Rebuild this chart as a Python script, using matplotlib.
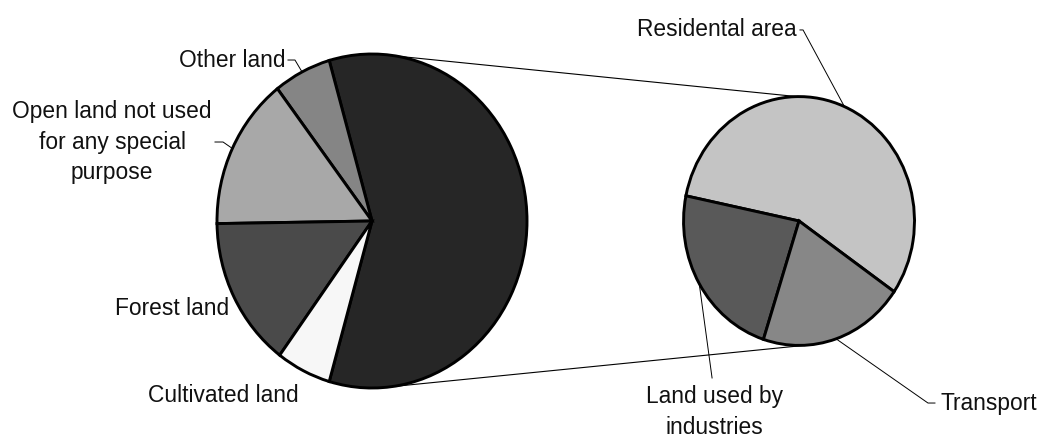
import numpy as np
import matplotlib.pyplot as plt

plt.rcParams['font.family'] = ['Liberation Sans', 'DejaVu Sans']

# land use, share of total area (%)
main_labels = ['Built-up land', 'Other land',
               'Open land not used\nfor any special\npurpose',
               'Forest land', 'Cultivated land']
main_values = [58.9, 6.0, 14.8, 14.6, 5.7]
main_colors = ['#262626', '#858585', '#a8a8a8', '#4a4a4a', '#f7f7f7']

# built-up land split into its parts (%)
sub_labels = ['Residental area', 'Land used by\nindustries', 'Transport']
sub_values = [33.2, 13.7, 12.0]
sub_colors = ['#c4c4c4', '#595959', '#878787']

W, H = 1041, 437
fig = plt.figure(figsize=(W / 100, H / 100), dpi=100)
ax = fig.add_axes([0, 0, 1, 1])

wp = dict(edgecolor='black', linewidth=2.1)
big_c, big_r = (0.0, 0.0), 1.0
sub_c, sub_r = (2.755, 0.0), 0.745

start = -main_values[0] / sum(main_values) * 360 / 2
w_main, _ = ax.pie(main_values, colors=main_colors, startangle=start,
                   center=big_c, radius=big_r, wedgeprops=wp)
w_sub, _ = ax.pie(sub_values, colors=sub_colors, startangle=-34.6,
                  center=sub_c, radius=sub_r, wedgeprops=wp)

# pie circles come out slightly taller than wide
ax.set_aspect('auto')
ax.set_xlim(-372 / 155, (W - 372) / 155)
ax.set_ylim(-(H - 221) / 167, 221 / 167)
ax.axis('off')


def edge_pt(center, r, ang):
    a = np.deg2rad(ang)
    return center[0] + r * np.cos(a), center[1] + r * np.sin(a)


# lines joining the built-up slice to the second pie
for a1, a2 in [(81, 91), (-83, -86)]:
    p1 = edge_pt(big_c, big_r, a1)
    p2 = edge_pt(sub_c, sub_r, a2)
    ax.plot([p1[0], p2[0]], [p1[1], p2[1]], color='black', lw=0.8, zorder=0)


def mid(w):
    return (w.theta1 + w.theta2) / 2


fs = 16.4
tc = '#111111'
ls = 1.4

# label, wedge, text xy, alignment, leader elbow points
main_lab = [
    (1, (-0.561, 0.964), 'right', [(-0.542, 0.964), (-0.497, 0.964)]),
    (2, (-1.677, 0.473), 'center', [(-1.013, 0.473), (-0.961, 0.473)]),
    (3, (-0.923, -0.521), 'right', None),
    (4, (-0.471, -1.042), 'right', None),
]
for i, xy, ha, elbow in main_lab:
    ax.text(xy[0], xy[1], main_labels[i], ha=ha, va='center', fontsize=fs,
            color=tc, linespacing=ls)
    if elbow:
        p = edge_pt(big_c, big_r, mid(w_main[i]))
        xs = [e[0] for e in elbow] + [p[0]]
        ys = [e[1] for e in elbow] + [p[1]]
        ax.plot(xs, ys, color='black', lw=0.7)

sub_lab = [
    (0, (2.742, 1.144), 'right', 'center', [(2.761, 1.144), (2.781, 1.144)]),
    (1, (2.210, -0.985), 'center', 'top', [(2.194, -0.940)]),
    (2, (3.665, -1.090), 'left', 'center', [(3.632, -1.090), (3.587, -1.090)]),
]
for i, xy, ha, va, elbow in sub_lab:
    ax.text(xy[0], xy[1], sub_labels[i], ha=ha, va=va, fontsize=fs,
            color=tc, linespacing=ls)
    p = edge_pt(sub_c, sub_r, mid(w_sub[i]))
    xs = [e[0] for e in elbow] + [p[0]]
    ys = [e[1] for e in elbow] + [p[1]]
    ax.plot(xs, ys, color='black', lw=0.7)

plt.savefig('out.png', dpi=100)
